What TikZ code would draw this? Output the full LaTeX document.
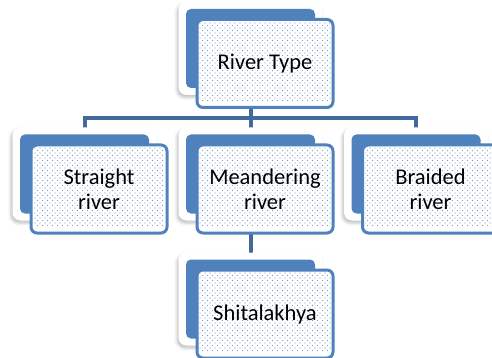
\documentclass[tikz,border=0pt]{standalone}
\usepackage{fontspec}
\setmainfont{Carlito}
\usetikzlibrary{patterns,shadows.blur,backgrounds,calc}

\definecolor{boxblue}{HTML}{4F81BD}
\definecolor{linkblue}{HTML}{41699B}
\definecolor{dotblue}{HTML}{7C9CD2}

% sparse checkered dots
\pgfdeclarepatternformonly{riverdots}{\pgfpoint{-1pt}{-1pt}}{\pgfpoint{4pt}{4pt}}{\pgfpoint{5pt}{5pt}}
{
	\pgfpathcircle{\pgfpointorigin}{0.65pt}
	\pgfpathcircle{\pgfpoint{2.5pt}{2.5pt}}{0.65pt}
	\pgfusepath{fill}
}

\tikzset{
	halo/.style={fill=white, rounded corners=8pt, minimum width=144pt, minimum height=93pt,
		blur shadow={shadow xshift=-1.5pt, shadow yshift=-2.5pt, shadow opacity=25, shadow blur radius=3pt}},
	backbox/.style={fill=boxblue, rounded corners=5pt, minimum width=129pt, minimum height=79pt},
	frontbox/.style={fill=white, draw=boxblue, line width=3pt, rounded corners=6pt, minimum width=136pt, minimum height=88pt},
	dotfill/.style={pattern=riverdots, pattern color=dotblue},
	boxtext/.style={align=center, font=\fontsize{22.5}{25}\selectfont, text=black},
	link/.style={draw=linkblue, line width=4pt}
}

\begin{document}
\begin{tikzpicture}[x=1pt,y=-1pt]
	\useasboundingbox (0,0) rectangle (492,358);
	\foreach \n/\x/\y/\t in {rtype/250.5/48.5/River Type, straight/84.5/174/Straight\\river,
		meander/250.5/174/Meandering\\river, braided/416/174/Braided\\river, shital/250.5/299/Shitalakhya}
	{
		\node[halo] (\n-h) at (\x,\y) {};
		\node[backbox] (\n) at (\x,\y) {};
		\node[frontbox] (\n-f) at ($(\n)+(14.5,15)$) {};
		\fill[dotfill] ([shift={(4,4)}]\n-f.north west) rectangle ([shift={(-4,-8)}]\n-f.south east);
		\node[boxtext] (\n-t) at (\n-f) {\t};
	}
	% connectors under the boxes
	\begin{scope}[on background layer]
		\draw[link] (rtype.south) -- ++(0,30) -| (straight.north);
		\draw[link] (rtype.south) -- ++(0,30) -| (braided.north);
		\draw[link] (rtype.south) -- (meander.north);
		\draw[link] (meander.south) -- (shital.north);
	\end{scope}
\end{tikzpicture}
\end{document}
